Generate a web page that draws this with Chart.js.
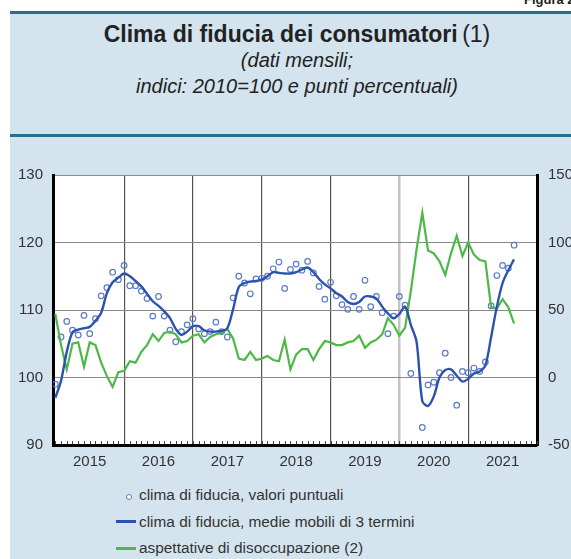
<!DOCTYPE html>
<html>
<head>
<meta charset="utf-8">
<script src="https://cdn.jsdelivr.net/npm/chart.js@4.4.1/dist/chart.umd.min.js"></script>
<style>
  html, body { margin: 0; padding: 0; width: 571px; height: 559px; overflow: hidden; background: #fff; font-family: "Liberation Sans", Arial, sans-serif; }
  #panel { position: absolute; left: 10px; top: 11px; width: 600px; height: 560px; background: #d4e4ee; border-top: 3px solid #2b6d8c; }
  #sep { position: absolute; left: 10px; top: 134px; width: 600px; height: 3px; background: #2b6d8c; }
  #fig { position: absolute; left: 524px; top: -8px; font-size: 13px; font-weight: bold; color: #222; white-space: nowrap; }
  #title { position: absolute; left: 10px; width: 574px; top: 21px; text-align: center; color: #222; white-space: nowrap; }
  #title .r { height: 26px; line-height: 26px; }
  #title .t { font-size: 23px; font-weight: bold; }
  #title .n { font-size: 23px; }
  #title .s { font-size: 20px; font-style: italic; }
  #wrap { position: absolute; left: 0; top: 155px; width: 600px; height: 320px; }
  #legend { position: absolute; left: 116px; top: 482px; font-size: 15.4px; color: #333; }
  #legend div { height: 26.7px; line-height: 26px; white-space: nowrap; }
  #legend .sw { display: inline-block; width: 20px; vertical-align: middle; position: relative; top: -1px; margin-right: 3px; }
</style>
</head>
<body>
<div id="panel"></div>
<div id="sep"></div>
<div id="fig">Figura 2</div>
<div id="title">
  <div class="r"><span class="t">Clima di fiducia dei consumatori</span> <span class="n">(1)</span></div>
  <div class="r s">(dati mensili;</div>
  <div class="r s">indici: 2010=100 e punti percentuali)</div>
</div>
<div id="wrap"><canvas id="myChart"></canvas></div>
<div id="legend"></div>
<script>
// anni sull'asse x (etichette a metà anno)
const anni = ['2015', '2016', '2017', '2018', '2019', '2020', '2021'];

// clima di fiducia, valori puntuali (gen 2015 - set 2021)
const puntuali = [
  99.0, 106.0, 108.3, 107.0, 106.3, 109.2, 106.5, 108.7, 112.1, 113.3, 115.6, 114.5,
  116.6, 113.6, 113.6, 112.8, 111.7, 109.1, 112.0, 109.1, 107.0, 105.3, 106.8, 107.8,
  108.7, 107.2, 106.5, 106.8, 108.2, 106.8, 106.0, 111.8, 115.0, 114.0, 112.4, 114.6,
  114.7, 115.0, 116.1, 117.1, 113.2, 116.0, 116.8, 115.9, 117.2, 115.5, 113.5, 111.6,
  114.1, 112.1, 110.8, 110.1, 112.0, 110.1, 114.4, 110.5, 112.0, 109.6, 106.5, 109.1,
  112.0, 110.7, 100.6, null, 92.6, 98.9, 99.3, 100.7, 103.6, 100.0, 95.9, 100.9,
  100.7, 101.4, 100.9, 102.3, 110.6, 115.1, 116.6, 116.2, 119.6
];

// clima di fiducia, medie mobili di 3 termini
const medieMobili = [
  97.0, 99.5, 103.8, 106.7, 107.1, 107.3, 107.5, 108.4, 109.6, 112.5, 114.1, 114.8,
  115.4, 115.0, 114.3, 113.5, 112.4, 111.3, 110.6, 109.8, 108.8, 107.2, 106.3, 106.8,
  107.6, 107.6, 107.0, 106.8, 106.8, 106.9, 107.3, 110.1, 113.4, 114.0, 114.2, 114.3,
  114.5, 115.0, 115.6, 115.5, 115.4, 115.4, 115.6, 116.0, 116.3, 115.6, 114.6, 113.8,
  113.2, 112.5, 112.0, 111.2, 110.9, 111.2, 112.0, 112.0, 111.7, 110.5, 109.5, 108.8,
  109.4, 110.5, 107.8, 105.3, 96.5, 95.8, 97.2, 100.0, 101.1, 101.2, 100.3, 99.4,
  99.8, 100.6, 100.9, 101.8, 106.0, 110.5, 114.0, 115.9, 117.5
];

// aspettative di disoccupazione (scala di destra)
const disoccupazione = [
  47, 24, 6, 25, 26, 8, 26, 24, 11, 1, -7, 4,
  5, 12, 11, 19, 24, 32, 27, 33, 34, 32, 26, 27,
  31, 32, 26, 30, 32, 33, 36, 29, 14, 13, 19, 13,
  14, 16, 13, 12, 28, 6, 17, 21, 21, 13, 21, 27,
  26, 24, 24, 26, 27, 31, 22, 26, 28, 32, 44, 39,
  31, 37, 64, 95, 122, 94, 92, 86, 76, 92, 105, 90,
  100, 91, 87, 86, 52, 51, 58, 52, 40
];

const serie = [
  { label: 'clima di fiducia, valori puntuali', dati: puntuali, tipo: 'punti', colore: '#5b7bc6' },
  { label: 'clima di fiducia, medie mobili di 3 termini', dati: medieMobili, tipo: 'linea', colore: '#2c52b0' },
  { label: 'aspettative di disoccupazione (2)', dati: disoccupazione, tipo: 'linea', colore: '#4cb848' }
];

function punti(arr) {
  return arr.map((v, i) => ({ x: i, y: v }));
}

// sfondo bianco dell'area del grafico
const sfondo = {
  id: 'sfondo',
  beforeDraw(chart) {
    const a = chart.chartArea;
    chart.ctx.save();
    chart.ctx.fillStyle = '#fff';
    chart.ctx.fillRect(a.left, a.top, a.right - a.left, a.bottom - a.top);
    chart.ctx.restore();
  }
};

// piccoli segni dei mesi sopra l'asse x
const segniMesi = {
  id: 'segniMesi',
  afterDatasetsDraw(chart) {
    const sx = chart.scales.x, ctx = chart.ctx, b = chart.chartArea.bottom;
    ctx.save();
    ctx.strokeStyle = '#444';
    ctx.lineWidth = 1;
    for (let m = 0; m <= 84; m++) {
      const px = Math.round(sx.getPixelForValue(m)) + 0.5;
      ctx.beginPath();
      ctx.moveTo(px, b - 1);
      ctx.lineTo(px, b - 4);
      ctx.stroke();
    }
    ctx.restore();
  }
};

const fontAssi = { family: 'Liberation Sans', size: 15 };

const ctx = document.getElementById('myChart').getContext('2d');
new Chart(ctx, {
  type: 'line',
  data: {
    datasets: [
      {
        label: serie[0].label, data: punti(serie[0].dati), yAxisID: 'y',
        showLine: false, pointStyle: 'circle', pointRadius: 2.8, pointBorderWidth: 1.2,
        pointBorderColor: serie[0].colore, pointBackgroundColor: 'rgba(255,255,255,0)', order: 3
      },
      {
        label: serie[1].label, data: punti(serie[1].dati), yAxisID: 'y',
        borderColor: serie[1].colore, borderWidth: 2.4, pointRadius: 0, tension: 0.3, order: 1
      },
      {
        label: serie[2].label, data: punti(serie[2].dati), yAxisID: 'y2',
        borderColor: serie[2].colore, borderWidth: 2.2, pointRadius: 0, tension: 0, order: 2
      }
    ]
  },
  options: {
    responsive: true,
    maintainAspectRatio: false,
    animation: false,
    layout: { padding: { top: 15, left: 0, right: 0, bottom: 0 } },
    plugins: { legend: { display: false }, tooltip: { enabled: false } },
    scales: {
      x: {
        type: 'linear', position: 'bottom', min: -0.4, max: 84,
        afterBuildTicks: s => { s.ticks = [12, 24, 36, 48, 60, 72].map(v => ({ value: v })); },
        afterFit: s => { s.height = 0; },
        ticks: { display: false },
        grid: {
          drawTicks: false,
          color: c => c.tick && c.tick.value === 60 ? '#c4c4c4' : '#555',
          lineWidth: c => c.tick && c.tick.value === 60 ? 2.5 : 1.2
        },
        border: { display: true, color: '#000', width: 3 }
      },
      xAnni: {
        type: 'linear', position: 'bottom', min: -0.4, max: 84,
        afterBuildTicks: s => { s.ticks = anni.map((a, k) => ({ value: 12 * k + 6 })); },
        afterFit: s => { s.height = 30; },
        grid: { display: false, drawTicks: false },
        border: { display: false },
        ticks: {
          autoSkip: false, maxRotation: 0, padding: 8, color: '#333',
          font: fontAssi,
          callback: v => anni[Math.round((v - 6) / 12)]
        }
      },
      y: {
        position: 'left', min: 90, max: 130,
        afterFit: s => { s.width = 53; },
        ticks: { stepSize: 10, padding: 10, color: '#333', font: fontAssi },
        grid: { drawTicks: false, color: '#8a8a8a', lineWidth: 1 },
        border: { display: true, color: '#000', width: 3 }
      },
      y2: {
        position: 'right', min: -50, max: 150,
        afterFit: s => { s.width = 63; },
        ticks: { stepSize: 50, padding: 11, color: '#333', font: fontAssi },
        grid: { drawOnChartArea: false, drawTicks: false },
        border: { display: true, color: '#000', width: 3 }
      }
    }
  },
  plugins: [sfondo, segniMesi]
});

// legenda
const leg = document.getElementById('legend');
serie.forEach(s => {
  const r = document.createElement('div');
  const sw = s.tipo === 'punti'
    ? `<span class="sw" style="text-align:right;height:8px;line-height:8px"><span style="display:inline-block;width:4px;height:4px;border:1.2px solid ${s.colore};border-radius:50%;background:#fff;margin-right:4px"></span></span>`
    : `<span class="sw" style="height:2.5px;background:${s.colore}"></span>`;
  r.innerHTML = sw + s.label;
  leg.appendChild(r);
});
</script>
</body>
</html>
